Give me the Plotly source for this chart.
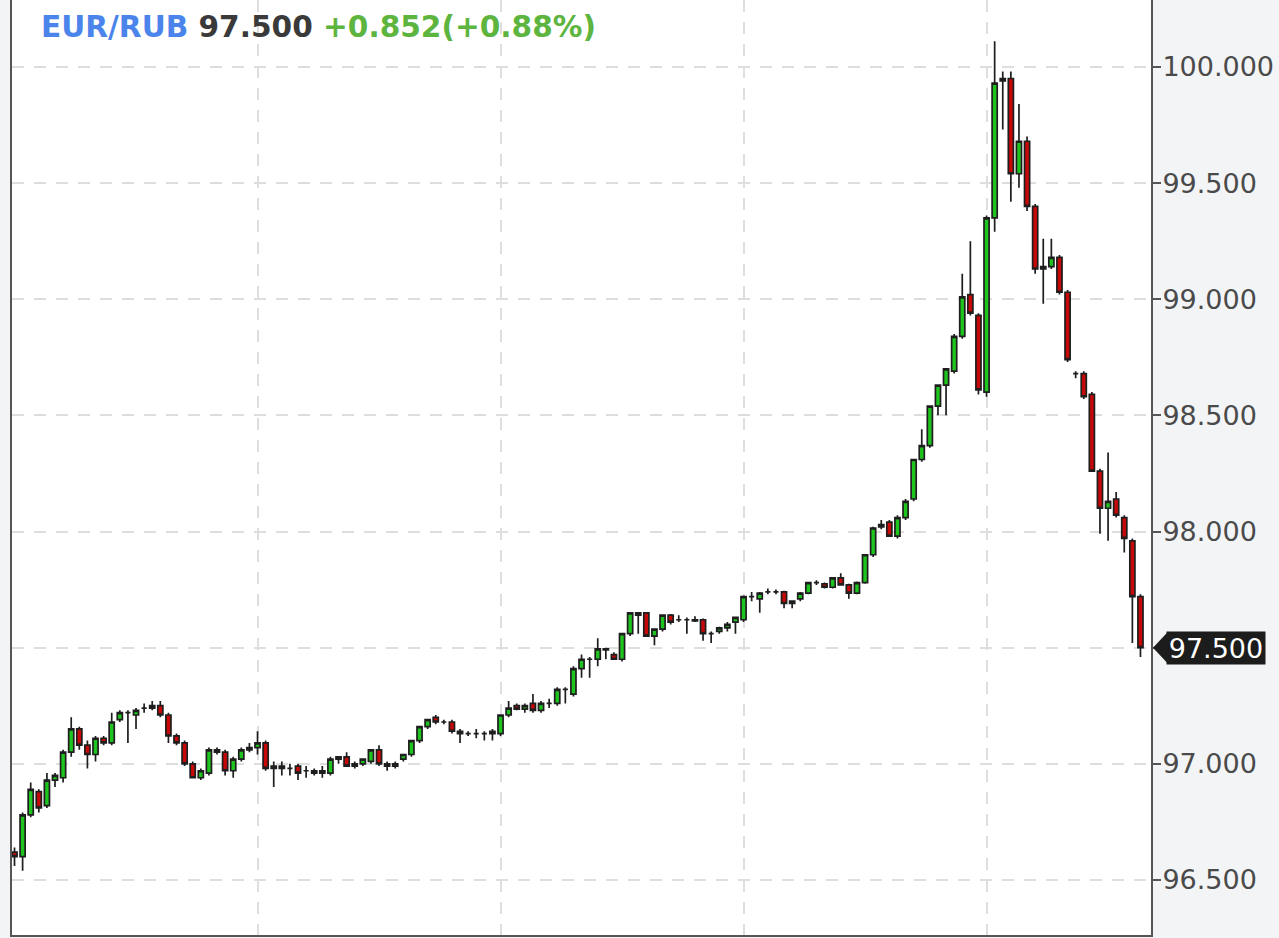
import plotly.graph_objects as go

symbol = "EUR/RUB"
change = 0.852
change_pct = 0.88

opens = [96.62, 96.60, 96.78, 96.88, 96.82, 96.93, 96.94, 97.05, 97.15, 97.08,
         97.04, 97.11, 97.09, 97.19, 97.22, 97.21, 97.24, 97.24, 97.25, 97.21,
         97.12, 97.09, 97.00, 96.94, 96.96, 97.06, 97.05, 96.97, 97.02, 97.06,
         97.07, 97.09, 96.98, 96.99, 96.98, 96.99, 96.97, 96.97, 96.97, 96.96,
         97.02, 97.03, 96.99, 97.00, 97.01, 97.06, 97.00, 96.99, 97.02, 97.04,
         97.10, 97.16, 97.20, 97.18, 97.18, 97.14, 97.13, 97.13, 97.13, 97.14,
         97.13, 97.21, 97.25, 97.235, 97.26, 97.23, 97.26, 97.26, 97.32, 97.30,
         97.41, 97.45, 97.45, 97.495, 97.47, 97.45, 97.56, 97.65, 97.65, 97.55,
         97.58, 97.64, 97.62, 97.62, 97.62, 97.62, 97.56, 97.57, 97.585, 97.61,
         97.62, 97.72, 97.71, 97.74, 97.74, 97.74, 97.69, 97.71, 97.735, 97.78,
         97.775, 97.76, 97.80, 97.77, 97.735, 97.78, 97.90, 98.02, 98.04, 97.98,
         98.06, 98.14, 98.31, 98.37, 98.54, 98.63, 98.69, 98.84, 99.02, 98.93,
         98.60, 99.35, 99.95, 99.95, 99.54, 99.68, 99.40, 99.13, 99.14, 99.18,
         99.03, 98.68, 98.68, 98.59, 98.26, 98.10, 98.14, 98.06, 97.96, 97.72]
highs = [96.64, 96.79, 96.92, 96.89, 96.96, 96.96, 97.06, 97.20, 97.16, 97.10,
         97.12, 97.12, 97.22, 97.23, 97.23, 97.24, 97.26, 97.27, 97.27, 97.22,
         97.13, 97.10, 97.01, 96.98, 97.07, 97.07, 97.06, 97.03, 97.07, 97.09,
         97.14, 97.10, 97.01, 97.01, 97.00, 97.00, 96.99, 96.98, 96.99, 97.03,
         97.03, 97.05, 97.01, 97.02, 97.06, 97.08, 97.01, 97.01, 97.04, 97.10,
         97.16, 97.19, 97.21, 97.19, 97.19, 97.15, 97.14, 97.15, 97.14, 97.15,
         97.21, 97.27, 97.26, 97.26, 97.30, 97.27, 97.28, 97.33, 97.33, 97.42,
         97.47, 97.46, 97.54, 97.50, 97.48, 97.56, 97.65, 97.65, 97.65, 97.58,
         97.64, 97.645, 97.64, 97.63, 97.635, 97.625, 97.57, 97.59, 97.61, 97.63,
         97.725, 97.74, 97.74, 97.755, 97.75, 97.745, 97.70, 97.74, 97.78, 97.79,
         97.78, 97.80, 97.82, 97.775, 97.785, 97.90, 98.02, 98.05, 98.05, 98.07,
         98.14, 98.31, 98.44, 98.54, 98.63, 98.70, 98.85, 99.11, 99.25, 98.94,
         99.36, 100.11, 99.98, 99.98, 99.84, 99.70, 99.41, 99.26, 99.26, 99.19,
         99.04, 98.69, 98.69, 98.60, 98.27, 98.34, 98.17, 98.07, 97.97, 97.73]
lows = [96.56, 96.54, 96.77, 96.79, 96.81, 96.90, 96.92, 97.03, 97.06, 96.98,
        97.01, 97.08, 97.08, 97.18, 97.09, 97.15, 97.22, 97.23, 97.20, 97.09,
        97.08, 96.99, 96.94, 96.93, 96.95, 97.04, 96.95, 96.94, 97.01, 97.05,
        97.04, 96.97, 96.90, 96.95, 96.95, 96.93, 96.94, 96.95, 96.94, 96.95,
        97.00, 96.99, 96.98, 96.99, 97.00, 96.99, 96.97, 96.98, 97.01, 97.03,
        97.09, 97.15, 97.17, 97.17, 97.13, 97.09, 97.12, 97.11, 97.10, 97.10,
        97.12, 97.20, 97.23, 97.22, 97.22, 97.22, 97.24, 97.25, 97.26, 97.29,
        97.37, 97.37, 97.42, 97.45, 97.45, 97.44, 97.55, 97.56, 97.55, 97.51,
        97.57, 97.60, 97.61, 97.56, 97.61, 97.53, 97.52, 97.56, 97.57, 97.56,
        97.61, 97.70, 97.65, 97.73, 97.73, 97.67, 97.67, 97.70, 97.73, 97.77,
        97.755, 97.755, 97.77, 97.71, 97.73, 97.775, 97.89, 98.01, 97.98, 97.97,
        98.05, 98.13, 98.30, 98.36, 98.50, 98.50, 98.68, 98.83, 98.93, 98.59,
        98.58, 99.29, 99.73, 99.42, 99.48, 99.38, 99.11, 98.98, 99.13, 99.02,
        98.73, 98.66, 98.57, 98.26, 97.99, 97.96, 98.06, 97.91, 97.52, 97.46]
closes = [96.60, 96.78, 96.89, 96.81, 96.93, 96.95, 97.05, 97.15, 97.08, 97.04,
          97.11, 97.09, 97.18, 97.22, 97.22, 97.23, 97.24, 97.25, 97.21, 97.12,
          97.09, 97.00, 96.94, 96.97, 97.06, 97.05, 96.97, 97.02, 97.06, 97.07,
          97.09, 96.98, 96.99, 96.98, 96.98, 96.96, 96.97, 96.96, 96.96, 97.02,
          97.03, 96.99, 97.00, 97.02, 97.06, 97.00, 96.99, 97.00, 97.04, 97.10,
          97.16, 97.19, 97.18, 97.18, 97.14, 97.13, 97.13, 97.13, 97.13, 97.13,
          97.21, 97.24, 97.235, 97.25, 97.23, 97.26, 97.26, 97.32, 97.32, 97.41,
          97.45, 97.45, 97.495, 97.49, 97.45, 97.56, 97.65, 97.64, 97.55, 97.58,
          97.64, 97.61, 97.62, 97.62, 97.615, 97.56, 97.56, 97.585, 97.60, 97.63,
          97.72, 97.72, 97.735, 97.74, 97.74, 97.69, 97.70, 97.735, 97.78, 97.78,
          97.76, 97.80, 97.77, 97.735, 97.78, 97.90, 98.015, 98.03, 97.98, 98.06,
          98.13, 98.31, 98.37, 98.54, 98.63, 98.70, 98.84, 99.01, 98.94, 98.61,
          99.35, 99.93, 99.94, 99.54, 99.68, 99.40, 99.13, 99.14, 99.18, 99.03,
          98.74, 98.68, 98.58, 98.26, 98.10, 98.13, 98.07, 97.97, 97.72, 97.50]

x_idx = list(range(len(closes)))
grid_x = [30, 60, 90, 120]
y_ticks = [96.5, 97.0, 97.5, 98.0, 98.5, 99.0, 99.5, 100.0]

Y_RANGE = [96.263, 100.288]
X_RANGE = [-0.31, 140.3]

W, H = 1279, 938
ML, MR, MT, MB = 12, 128, 0, 3
plot_w = W - ML - MR
plot_h = H - MT - MB

last = closes[-1]
# the last price label covers the tick label at that level
y_ticktext = ["" if abs(v - last) < 1e-9 else f"{v:.3f}" for v in y_ticks]

fig = go.Figure()
fig.add_trace(go.Candlestick(
    x=x_idx, open=opens, high=highs, low=lows, close=closes,
    increasing=dict(line=dict(color="#1e1e1e", width=1.7), fillcolor="#1fc51f"),
    decreasing=dict(line=dict(color="#1e1e1e", width=1.7), fillcolor="#c80808"),
    whiskerwidth=0,
    hoverinfo="skip",
    showlegend=False,
))

grid_style = dict(showgrid=True, gridcolor="#dedede", gridwidth=1.5, griddash="12px,10px")

fig.update_layout(
    width=W, height=H,
    margin=dict(l=ML, r=MR, t=MT, b=MB, pad=0),
    paper_bgcolor="#f3f4f6",
    plot_bgcolor="#ffffff",
    boxgap=0.1,
    font=dict(family="DejaVu Sans", size=27, color="#4a4a4a"),
    xaxis=dict(
        range=X_RANGE, rangeslider=dict(visible=False),
        tickmode="array", tickvals=grid_x, showticklabels=False, ticks="",
        showline=True, linecolor="#555555", linewidth=2,
        zeroline=False, fixedrange=True,
        **grid_style,
    ),
    yaxis=dict(
        range=Y_RANGE, side="right",
        tickmode="array", tickvals=y_ticks, ticktext=y_ticktext,
        ticks="outside", ticklen=8, tickwidth=2, tickcolor="#555555",
        ticklabelstandoff=-4,
        showline=True, linecolor="#555555", linewidth=2, mirror=True,
        zeroline=False, fixedrange=True,
        tickfont=dict(family="DejaVu Sans", size=27, color="#4a4a4a"),
        **grid_style,
    ),
)

header = (
    f"<b><span style='color:#4b84ea'>{symbol}</span> "
    f"<span style='color:#3a3a3a'>{last:.3f}</span> "
    f"<span style='color:#5db53f'>+{change:.3f}(+{change_pct:.2f}%)</span></b>"
)
fig.add_annotation(
    text=header, xref="paper", yref="paper", x=0, y=1,
    xanchor="left", yanchor="middle", xshift=27, yshift=-27,
    showarrow=False, font=dict(family="DejaVu Sans", size=29.6),
)

# last price marker on the right axis
fig.add_annotation(
    text=f"{last:.3f}", xref="paper", yref="y", x=1, y=last,
    xanchor="left", yanchor="middle", xshift=15,
    showarrow=False, bgcolor="#1c1c1c", width=96, height=30, borderpad=1,
    font=dict(family="DejaVu Sans", size=27, color="#ffffff"),
)
frac = (last - Y_RANGE[0]) / (Y_RANGE[1] - Y_RANGE[0])
dx = 15 / plot_w
dy = 16 / plot_h
x0 = 1 + 2 / plot_w
fig.add_shape(
    type="path", xref="paper", yref="paper",
    path=f"M {x0} {frac} L {x0 + dx} {frac + dy} L {x0 + dx} {frac - dy} Z",
    fillcolor="#1c1c1c", line=dict(width=0), layer="above",
)

fig.write_html(
    "out.html",
    config={"displayModeBar": False},
    post_script="document.body.style.margin='0';document.body.style.overflow='hidden';",
)
